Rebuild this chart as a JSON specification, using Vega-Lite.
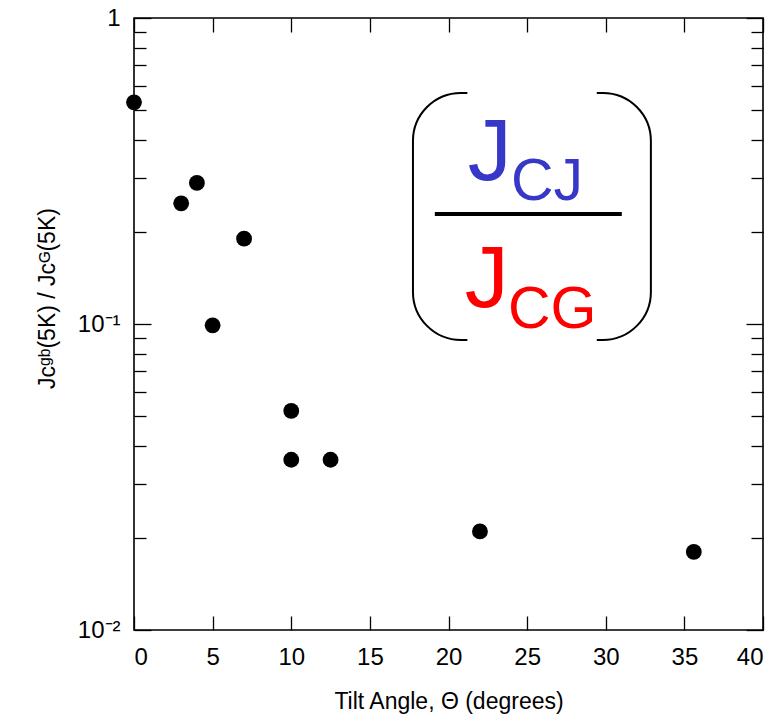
{
  "$schema": "https://vega.github.io/schema/vega-lite/v6.json",
  "width": 629,
  "height": 612,
  "autosize": "none",
  "padding": {"left": 134, "top": 18, "right": 20, "bottom": 85},
  "background": "white",
  "config": {
    "view": {"stroke": "black", "strokeWidth": 1.6},
    "axis": {"grid": false, "domain": false, "tickColor": "black", "tickWidth": 1.3, "labelColor": "black", "titleColor": "black", "labelFont": "Liberation Sans", "titleFont": "Liberation Sans", "titleFontWeight": "normal"}
  },
  "data": {
    "values": [
      {"theta": 0, "ratio": 0.53},
      {"theta": 3, "ratio": 0.248},
      {"theta": 4, "ratio": 0.289},
      {"theta": 5, "ratio": 0.099},
      {"theta": 7, "ratio": 0.19},
      {"theta": 10, "ratio": 0.052},
      {"theta": 10, "ratio": 0.036},
      {"theta": 12.5, "ratio": 0.036},
      {"theta": 22, "ratio": 0.021},
      {"theta": 35.6, "ratio": 0.018}
    ]
  },
  "resolve": {"axis": {"x": "independent", "y": "independent"}},
  "layer": [
    {
      "mark": {"type": "circle", "size": 250, "color": "black", "opacity": 1},
      "encoding": {
        "x": {
          "field": "theta", "type": "quantitative",
          "scale": {"domain": [0, 40], "nice": false, "zero": false},
          "axis": {"orient": "bottom", "values": [0,5,10,15,20,25,30,35,40], "tickSize": -14, "labelPadding": 29, "labelFontSize": 24, "title": "Tilt Angle, Θ (degrees)", "titleFontSize": 23, "titlePadding": 21}
        },
        "y": {
          "field": "ratio", "type": "quantitative",
          "scale": {"type": "log", "domain": [0.01, 1], "nice": false},
          "axis": {
            "orient": "left",
            "values": [0.01,0.02,0.03,0.04,0.05,0.06,0.07,0.08,0.09,0.1,0.2,0.3,0.4,0.5,0.6,0.7,0.8,0.9,1],
            "tickSize": {"condition": {"test": "datum.value == 0.01 || datum.value == 0.1 || datum.value == 1", "value": -17}, "value": -12},
            "labelExpr": "datum.value == 1 ? '1' : datum.value == 0.1 ? '10⁻¹' : datum.value == 0.01 ? '10⁻²' : ''",
            "labelFontSize": 24, "labelPadding": 31,
            "title": "Jcᵍᵇ(5K) / Jcᴳ(5K)", "titleFontSize": 23, "titlePadding": 18, "titleY": 280
          }
        }
      }
    },
    {
      "mark": {"type": "circle", "opacity": 0},
      "encoding": {
        "x": {"field": "theta", "type": "quantitative", "axis": {"orient": "top", "values": [0,5,10,15,20,25,30,35,40], "tickSize": -14, "labels": false, "title": null}},
        "y": {"field": "ratio", "type": "quantitative", "axis": {
          "orient": "right",
          "values": [0.01,0.02,0.03,0.04,0.05,0.06,0.07,0.08,0.09,0.1,0.2,0.3,0.4,0.5,0.6,0.7,0.8,0.9,1],
          "tickSize": {"condition": {"test": "datum.value == 0.01 || datum.value == 0.1 || datum.value == 1", "value": -17}, "value": -12},
          "labels": false, "title": null}}
      }
    },
    {
      "data": {"values": [{}]},
      "mark": {"type": "rect", "fill": null, "fillOpacity": 0, "stroke": "black", "strokeWidth": 2, "cornerRadius": 48},
      "encoding": {
        "x": {"datum": 17.74, "type": "quantitative", "axis": null},
        "x2": {"datum": 32.87},
        "y": {"datum": 0.569, "type": "quantitative", "axis": null},
        "y2": {"datum": 0.0887}
      }
    },
    {
      "data": {"values": [{"part": "top", "ya": 0.595, "yb": 0.545}, {"part": "bottom", "ya": 0.0925, "yb": 0.0852}]},
      "mark": {"type": "rect", "fill": "white", "stroke": null},
      "encoding": {
        "x": {"datum": 21.2, "type": "quantitative", "axis": null},
        "x2": {"datum": 29.43},
        "y": {"field": "ya", "type": "quantitative", "axis": null},
        "y2": {"field": "yb"}
      }
    },
    {
      "data": {"values": [{}]},
      "mark": {"type": "rule", "stroke": "black", "strokeWidth": 4},
      "encoding": {
        "x": {"datum": 19.13, "type": "quantitative", "axis": null},
        "x2": {"datum": 31.02},
        "y": {"datum": 0.2288, "type": "quantitative", "axis": null}
      }
    },
    {
      "data": {"values": [
        {"label": "J", "tx": 21.23, "ty": 0.2955, "fs": "big", "col": "blue"},
        {"label": "CJ", "tx": 23.97, "ty": 0.2542, "fs": "small", "col": "blue"},
        {"label": "J", "tx": 21.04, "ty": 0.1136, "fs": "big", "col": "red"},
        {"label": "CG", "tx": 23.78, "ty": 0.0970, "fs": "small", "col": "red"}
      ]},
      "mark": {"type": "text", "align": "left", "baseline": "alphabetic", "font": "Liberation Sans"},
      "encoding": {
        "x": {"field": "tx", "type": "quantitative", "axis": null},
        "y": {"field": "ty", "type": "quantitative", "axis": null},
        "text": {"field": "label"},
        "size": {"field": "fs", "type": "nominal", "scale": {"domain": ["big", "small"], "range": [88, 59]}, "legend": null},
        "color": {"field": "col", "type": "nominal", "scale": {"domain": ["blue", "red"], "range": ["#3838c8", "#ff0000"]}, "legend": null}
      }
    }
  ]
}
